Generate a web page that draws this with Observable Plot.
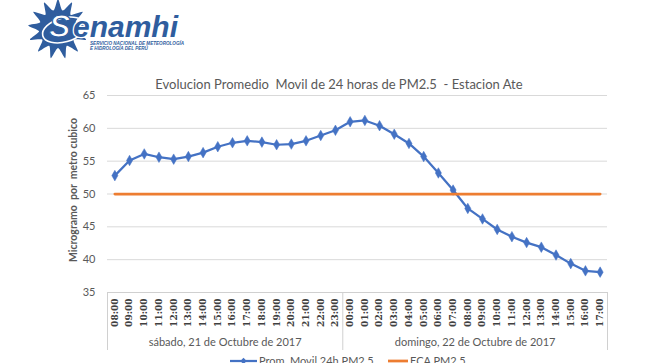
<!DOCTYPE html>
<html><head><meta charset="utf-8">
<script src="https://cdn.jsdelivr.net/npm/d3@7"></script>
<script src="https://cdn.jsdelivr.net/npm/@observablehq/plot@0.6"></script>
<style>
body{margin:0;background:#fff;}
#wrap{position:relative;width:645px;height:363px;overflow:hidden;font-family:Lato,"Open Sans",sans-serif;background:#fff;}
#chart{position:absolute;left:0;top:0;}
#title{position:absolute;left:0;width:678px;top:76px;text-align:center;font-size:13px;color:#595959;white-space:nowrap;}
#ytitle{position:absolute;left:73px;top:190px;transform:translate(-50%,-50%) rotate(-90deg);font-size:10.5px;font-weight:bold;color:#595959;white-space:nowrap;}
#legend{position:absolute;top:354px;left:0;width:645px;font-size:11px;color:#595959;white-space:nowrap;}
.lg{position:absolute;display:flex;align-items:center;}
#logo{position:absolute;left:0;top:0;}
</style></head><body><div id="wrap">
<svg id="logo" width="200" height="62"></svg>
<div id="chart"></div>
<div id="title">Evolucion Promedio&nbsp; Movil de 24 horas de PM2.5&nbsp; - Estacion Ate</div>
<div id="ytitle">Microgramo&nbsp; por&nbsp; metro cubico</div>
<div id="legend"></div>
</div>
<script>
const hours = ["08:00","09:00","10:00","11:00","12:00","13:00","14:00","15:00","16:00","17:00","18:00","19:00","20:00","21:00","22:00","23:00",
  "00:00","01:00","02:00","03:00","04:00","05:00","06:00","07:00","08:00","09:00","10:00","11:00","12:00","13:00","14:00","15:00","16:00","17:00"];
const dayLabels = ["sábado, 21 de Octubre de 2017","domingo, 22 de Octubre de 2017"];
const dayIndex = [0,0,0,0,0,0,0,0,0,0,0,0,0,0,0,0,1,1,1,1,1,1,1,1,1,1,1,1,1,1,1,1,1,1];
const promMovil = [52.8,55.1,56.1,55.6,55.3,55.7,56.3,57.2,57.8,58.1,57.9,57.5,57.6,58.1,58.9,59.7,
  61.0,61.2,60.4,59.1,57.7,55.7,53.2,50.6,47.8,46.2,44.6,43.5,42.6,41.9,40.7,39.4,38.3,38.1];
const ecaPM25 = [50,50,50,50,50,50,50,50,50,50,50,50,50,50,50,50,50,50,50,50,50,50,50,50,50,50,50,50,50,50,50,50,50,50];
const yTicks = [35,40,45,50,55,60,65];
const seriesNames = ["Prom. Movil 24h PM2.5","ECA PM2.5"];
const seriesColors = ["#4472C4","#ED7D31"];

const rows = hours.map((h,i)=>({i, hour:h, day:dayLabels[dayIndex[i]], prom:promMovil[i], eca:ecaPM25[i]}));
const groups = d3.groups(rows, d=>d.day).map(([day, rs])=>({day, start:rs[0].i-0.5, end:rs[rs.length-1].i+0.5, mid:(rs[0].i+rs[rs.length-1].i)/2}));
const bounds = [...groups.map(g=>g.start), groups[groups.length-1].end];
const yMin = d3.min(yTicks);

const chart = Plot.plot({
  width:645, height:363,
  marginLeft:107, marginRight:38, marginTop:95, marginBottom:71,
  style:{background:"transparent", fontFamily:"Lato, sans-serif"},
  x:{type:"linear", domain:[-0.5, hours.length-0.5], axis:null},
  y:{domain:[d3.min(yTicks), d3.max(yTicks)], axis:null},
  marks:[
    Plot.ruleY(yTicks.filter(v=>v>yMin), {stroke:"#d9d9d9", strokeWidth:1}),
    Plot.ruleY([yMin], {stroke:"#d0d0d0", strokeWidth:1}),
    Plot.ruleX(bounds, {y1:yMin, y2:yMin, insetBottom:-58, stroke:"#d0d0d0", strokeWidth:1}),
    Plot.axisY({ticks:yTicks, tickSize:0, tickPadding:12, fontSize:11, fill:"#595959", label:null}),
    Plot.axisX({ticks:rows.map(d=>d.i), tickFormat:i=>hours[i], tickRotate:-90, tickSize:0, tickPadding:6,
      fontSize:9, fontWeight:"bold", fontFamily:"DejaVu Serif", fill:"#404040", label:null}),
    Plot.text(groups, {x:"mid", y:yMin, text:"day", dy:50, fontSize:11, fill:"#595959"}),
    Plot.line(rows, {x:"i", y:"prom", stroke:seriesColors[0], strokeWidth:2.25}),
    Plot.dot(rows, {x:"i", y:"prom", symbol:"diamond", r:3.2, fill:seriesColors[0], stroke:seriesColors[0], strokeWidth:0.5}),
    Plot.line(rows, {x:"i", y:"eca", stroke:seriesColors[1], strokeWidth:2.75})
  ]
});
document.getElementById("chart").appendChild(chart);

// legend
const legend = document.getElementById("legend");
const lgPos = [230, 388];
seriesNames.forEach((n,k)=>{
  const d = document.createElement("div");
  d.className = "lg";
  d.style.left = lgPos[k]+"px";
  const marker = k===0
    ? `<svg width="27" height="10"><line x1="0" y1="5" x2="27" y2="5" stroke="${seriesColors[0]}" stroke-width="2.25"/><path d="M13.5,1.8L16.7,5L13.5,8.2L10.3,5Z" fill="${seriesColors[0]}"/></svg>`
    : `<svg width="20" height="10"><line x1="0" y1="5" x2="20" y2="5" stroke="${seriesColors[1]}" stroke-width="2.75"/></svg>`;
  d.innerHTML = marker + `<span style="margin-left:2px">${n}</span>`;
  legend.appendChild(d);
});

// logo (decoration)
const logo = d3.select("#logo");
const blue = "#2f5d9e";
const cx = 58, cy = 29, nRays = 13;
const pts = [];
for (let k=0;k<nRays*2;k++){
  const a = k*Math.PI/nRays - Math.PI/2;
  const r = k%2===0 ? 30 : 19;
  pts.push([cx + r*Math.cos(a), cy + r*Math.sin(a)]);
}
logo.append("path").attr("d", d3.line().curve(d3.curveCardinalClosed.tension(0.3))(pts)).attr("fill",blue);
logo.append("circle").attr("cx",cx).attr("cy",cy).attr("r",18).attr("fill",blue);
logo.append("ellipse").attr("cx",cx+6).attr("cy",cy+1).attr("rx",22).attr("ry",12).attr("transform",`rotate(-15,${cx+6},${cy+1})`)
  .attr("fill","none").attr("stroke","#fff").attr("stroke-width",1.6);
logo.append("text").attr("x",49).attr("y",37).attr("font-family","Liberation Sans").attr("font-weight","bold").attr("font-style","italic")
  .attr("font-size",32).attr("fill","#fff").attr("stroke",blue).attr("stroke-width",1.2).text("S");
logo.append("text").attr("x",73).attr("y",37).attr("font-family","Liberation Sans").attr("font-weight","bold").attr("font-style","italic")
  .attr("font-size",30).attr("fill",blue).attr("stroke","#fff").attr("stroke-width",2.5).attr("paint-order","stroke").text("enamhi");
logo.append("text").attr("x",90).attr("y",44.5).attr("font-family","Liberation Sans").attr("font-weight","bold").attr("font-style","italic")
  .attr("font-size",4.6).attr("fill",blue).text("SERVICIO NACIONAL DE METEOROLOGÍA");
logo.append("text").attr("x",90).attr("y",49.5).attr("font-family","Liberation Sans").attr("font-weight","bold").attr("font-style","italic")
  .attr("font-size",4.6).attr("fill",blue).text("E HIDROLOGÍA DEL PERÚ");
</script>
</body></html>
